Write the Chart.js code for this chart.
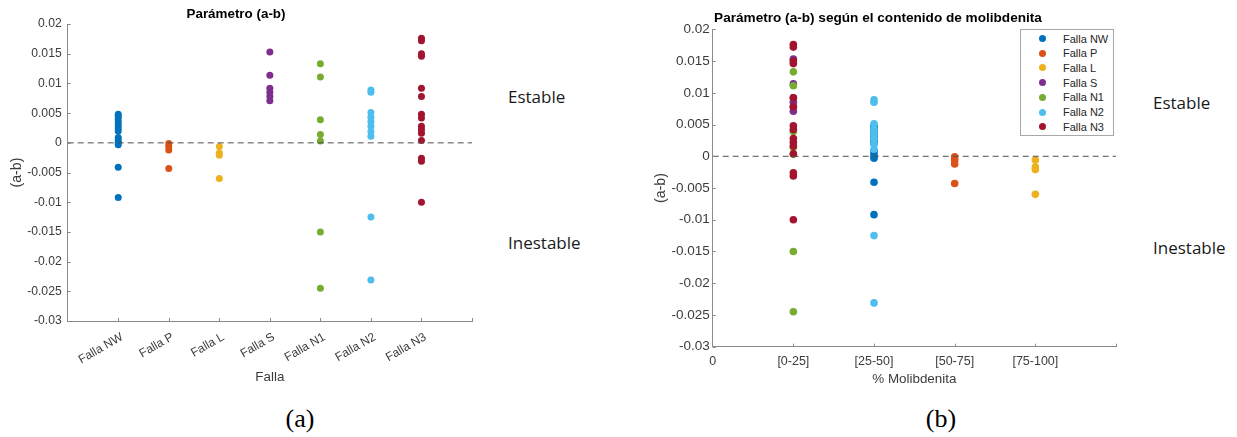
<!DOCTYPE html>
<html>
<head>
<meta charset="utf-8">
<script src="https://cdn.jsdelivr.net/npm/chart.js@4/dist/chart.umd.min.js"></script>
<style>
  body { margin: 0; background: #fff; }
  #wrap { position: relative; width: 1237px; height: 437px; overflow: hidden; }
  canvas { position: absolute; top: 0; }
  .note { position: absolute; font-family: 'Open Sans', sans-serif; font-size: 17px; color: #1a1a1a; white-space: nowrap; line-height: 1; }
  .sub { position: absolute; font-family: 'Liberation Serif', serif; font-size: 26px; color: #000; transform: translate(-50%, -50%); line-height: 1; }
  #legendB { position: absolute; left: 1020px; top: 29px; width: 92px; height: 105px; border: 1px solid #a8a8a8; background: #fff; }
  .lg-item { position: absolute; left: 0; font-family: 'Liberation Sans', sans-serif; font-size: 11px; color: #262626; height: 14px; line-height: 14px; white-space: nowrap; }
  .lg-dot { position: absolute; left: 18px; top: 3.5px; width: 7px; height: 7px; border-radius: 50%; }
  .lg-txt { position: absolute; left: 42px; top: 0; }
</style>
</head>
<body>
<div id="wrap">
  <canvas id="chartA" width="500" height="400" style="left:0px"></canvas>
  <canvas id="chartB" width="500" height="400" style="left:640px"></canvas>
  <div id="legendB"></div>
  <div class="note" style="left:508px; top:88px">Estable</div>
  <div class="note" style="left:508px; top:234px">Inestable</div>
  <div class="note" style="left:1153px; top:94px">Estable</div>
  <div class="note" style="left:1153px; top:239px">Inestable</div>
  <div class="sub" style="left:300px; top:419px">(a)</div>
  <div class="sub" style="left:941px; top:419px">(b)</div>
</div>
<script>
// fallas (categorias del grafico a)
var fallas = ['Falla NW', 'Falla P', 'Falla L', 'Falla S', 'Falla N1', 'Falla N2', 'Falla N3'];
var colores = ['#0072BD', '#D95319', '#EDB120', '#7E2F8E', '#77AC30', '#4DBEEE', '#A2142F'];

// valores del parametro (a-b) por falla
var fallaNW = [0.0048, 0.0045, 0.0040, 0.0035, 0.0030, 0.0025, 0.0020, 0.0009, 0.0004, 0.0000, -0.0003, -0.0041, -0.0092];
var fallaP  = [-0.0001, -0.0006, -0.0012, -0.0043];
var fallaL  = [-0.0006, -0.0017, -0.0021, -0.0060];
var fallaS  = [0.0153, 0.0114, 0.0092, 0.0085, 0.0078, 0.0071];
var fallaN1 = [0.0133, 0.0111, 0.0039, 0.0014, 0.0003, -0.0150, -0.0245];
var fallaN2 = [0.0089, 0.0085, 0.0051, 0.0043, 0.0036, 0.0028, 0.0019, 0.0011, -0.0125, -0.0231];
var fallaN3 = [0.0176, 0.0172, 0.0150, 0.0146, 0.0092, 0.0078, 0.0048, 0.0042, 0.0028, 0.0022, 0.0016, 0.0004, -0.0026, -0.0031, -0.0100];
var valores = [fallaNW, fallaP, fallaL, fallaS, fallaN1, fallaN2, fallaN3];

// clase de molibdenita de cada falla (grafico b): 1=[0-25] 2=[25-50] 3=[50-75] 4=[75-100]
var claseMoli = [2, 3, 4, 1, 1, 2, 1];
var ticksMoli = ['0', '[0-25]', '[25-50]', '[50-75]', '[75-100]', ''];

var yTicks = [0.02, 0.015, 0.01, 0.005, 0, -0.005, -0.01, -0.015, -0.02, -0.025, -0.03];

var axisColor = '#8a8a8a';
var tickColor = '#3c3c3c';

// ticks hacia adentro, como en matlab
var inwardTicks = {
  id: 'inwardTicks',
  afterDatasetsDraw(chart, args, opts) {
    var ctx = chart.ctx, a = chart.chartArea, x = chart.scales.x, y = chart.scales.y;
    ctx.save();
    ctx.strokeStyle = axisColor;
    ctx.lineWidth = 1;
    ctx.beginPath();
    opts.xTicks.forEach(function(v) {
      var px = Math.round(x.getPixelForValue(v)) + 0.5;
      ctx.moveTo(px, a.bottom);
      ctx.lineTo(px, a.bottom - 3);
    });
    yTicks.forEach(function(v) {
      var py = Math.round(y.getPixelForValue(v)) + 0.5;
      ctx.moveTo(a.left, py);
      ctx.lineTo(a.left + 3, py);
    });
    ctx.stroke();
    ctx.restore();
  }
};

function makeDatasets(xOf, radius, xMax) {
  var ds = valores.map(function(vals, i) {
    return {
      label: fallas[i],
      data: vals.map(function(v) { return {x: xOf(i), y: v}; }),
      backgroundColor: colores[i],
      borderWidth: 0,
      pointRadius: radius,
      order: fallas.length - i
    };
  });
  ds.push({
    type: 'line',
    label: 'cero',
    data: [{x: 0, y: 0}, {x: xMax, y: 0}],
    borderColor: '#505050',
    borderWidth: 1,
    borderDash: [6, 4],
    pointRadius: 0,
    fill: false,
    order: 0
  });
  return ds;
}

function fmtY(v) {
  return String(+(+v).toFixed(3));
}

function makeChart(id, cfg) {
  return new Chart(document.getElementById(id), {
    type: 'scatter',
    data: { datasets: makeDatasets(cfg.xOf, cfg.radius, cfg.xMax) },
    options: {
      responsive: false,
      animation: false,
      devicePixelRatio: 1,
      events: [],
      layout: { padding: { left: 0, right: cfg.padRight, top: 0, bottom: 0 } },
      plugins: {
        legend: { display: false },
        tooltip: { enabled: false },
        title: {
          display: true,
          text: cfg.title,
          color: '#000',
          font: { family: 'Liberation Sans', size: cfg.titleSize, weight: 'bold' },
          padding: { top: cfg.titleTop, bottom: cfg.titleBottom }
        },
        inwardTicks: { xTicks: cfg.xTicks }
      },
      scales: {
        x: {
          type: 'linear',
          min: 0,
          max: cfg.xMax,
          grid: { display: false, drawTicks: false },
          border: { display: true, color: axisColor, width: 1 },
          ticks: {
            stepSize: 1,
            autoSkip: false,
            minRotation: cfg.rot,
            maxRotation: cfg.rot,
            padding: cfg.xPad,
            labelOffset: cfg.labelOffset,
            color: tickColor,
            font: { family: 'Liberation Sans', size: cfg.xTickSize },
            callback: cfg.xLabel
          },
          title: {
            display: true,
            text: cfg.xTitle,
            color: tickColor,
            font: { family: 'Liberation Sans', size: 13.4 },
            padding: { top: 0, bottom: cfg.xTitleBottom }
          },
          afterFit: function(s) { s.height = cfg.xHeight; }
        },
        y: {
          min: -0.03,
          max: 0.02,
          grid: { display: false, drawTicks: false },
          border: { display: true, color: axisColor, width: 1 },
          ticks: {
            stepSize: 0.005,
            padding: cfg.yPad,
            color: tickColor,
            font: { family: 'Liberation Sans', size: cfg.yTickSize },
            callback: fmtY
          },
          title: {
            display: true,
            text: '(a-b)',
            color: tickColor,
            font: { family: 'Liberation Sans', size: 14.2 },
            padding: { top: cfg.yTitleTop, bottom: 0 }
          },
          afterFit: function(s) { s.width = cfg.yWidth; }
        }
      }
    },
    plugins: [inwardTicks]
  });
}

// (a) parametro por falla
makeChart('chartA', {
  title: 'Parámetro (a-b)',
  titleSize: 13.4, titleTop: 6, titleBottom: 2,
  xOf: function(i) { return i + 1; },
  xMax: 8,
  xTicks: [1, 2, 3, 4, 5, 6, 7, 8],
  xLabel: function(v) { return fallas[v - 1] || ''; },
  radius: 3.5,
  rot: 30, xPad: 9, labelOffset: 4, xTickSize: 12,
  xTitle: 'Falla', xTitleBottom: 15, xHeight: 79,
  yPad: 6, yTickSize: 12.2, yTitleTop: 9, yWidth: 67.7,
  padRight: 28
});

// (b) parametro segun contenido de molibdenita
makeChart('chartB', {
  title: 'Parámetro (a-b) según el contenido de molibdenita',
  titleSize: 13.6, titleTop: 10.5, titleBottom: 2.5,
  xOf: function(i) { return claseMoli[i]; },
  xMax: 5,
  xTicks: [1, 2, 3, 4, 5],
  xLabel: function(v) { return ticksMoli[v]; },
  radius: 3.8,
  rot: 0, xPad: 7, labelOffset: 0, xTickSize: 12.5,
  xTitle: '% Molibdenita', xTitleBottom: 13, xHeight: 53.3,
  yPad: 3, yTickSize: 13.5, yTitleTop: 12.5, yWidth: 72.7,
  padRight: 24
});

// leyenda del grafico b
var leg = document.getElementById('legendB');
fallas.forEach(function(name, i) {
  var row = document.createElement('div');
  row.className = 'lg-item';
  row.style.top = (1.5 + i * 14.7) + 'px';
  row.innerHTML = '<span class="lg-dot" style="background:' + colores[i] + '"></span><span class="lg-txt">' + name + '</span>';
  leg.appendChild(row);
});
</script>
</body>
</html>
